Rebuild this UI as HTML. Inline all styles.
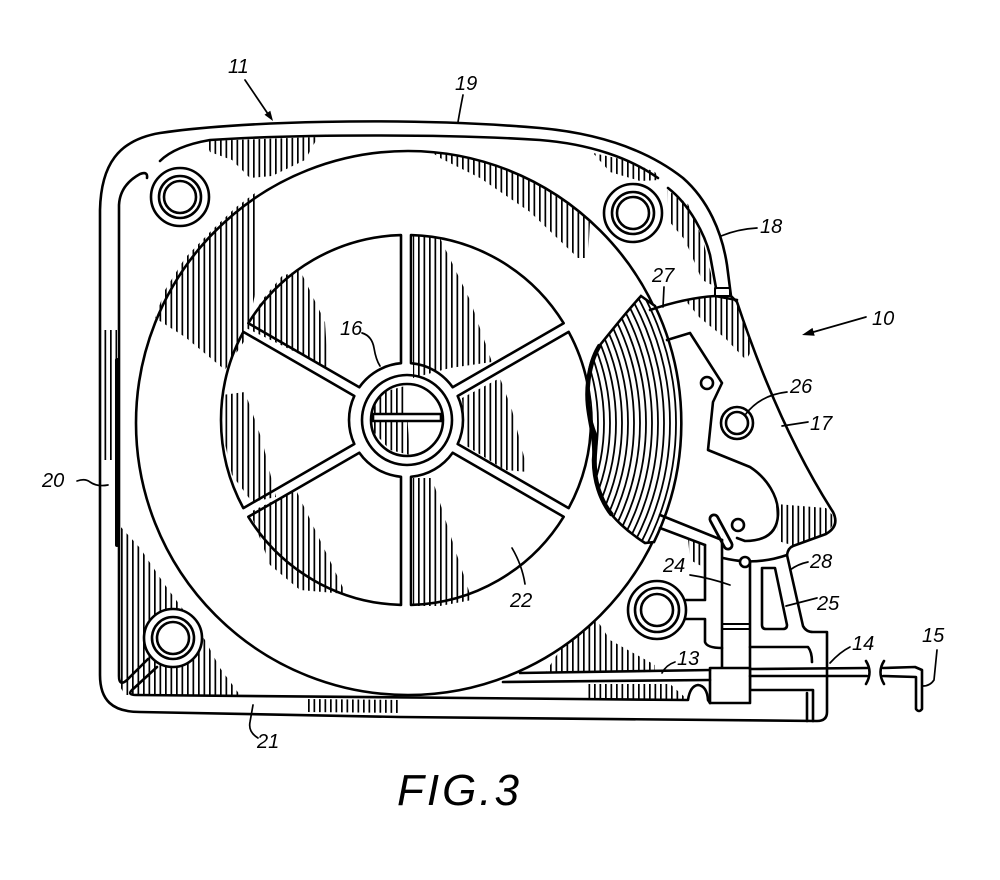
<!DOCTYPE html>
<html><head><meta charset="utf-8"><style>
html,body{margin:0;padding:0;background:#fff;}
svg{display:block;}
text{font-family:"Liberation Sans",sans-serif;font-style:italic;fill:#000;}
</style></head><body>
<svg width="1000" height="880" viewBox="0 0 1000 880" xmlns="http://www.w3.org/2000/svg">
<defs>
<pattern id="h" patternUnits="userSpaceOnUse" width="5.5" height="8"><rect width="1.7" height="8" fill="#000"/></pattern>
<clipPath id="coilc"><path d="M641,296 L655,306 A273,273 0 0 1 654,542 L645,543 C628,532 612,518 605,505 C598,495 596,485 596,470 C594,455 598,445 596,435 C590,420 586,400 588,385 C588,370 592,355 600,345 C612,330 628,310 641,296 Z"/></clipPath>
<clipPath id="screwc"><circle cx="407" cy="420" r="35"/></clipPath>
<path id="sector" d="M5,-56.78 L5,-184.93 A185,185 0 0 1 157.66,-96.79 L46.67,-32.72 A57,57 0 0 0 5,-56.78 Z"/>
</defs>
<rect width="1000" height="880" fill="#fff"/>

<!-- hatching -->
<g fill="url(#h)" stroke="none">
<path d="M205,141 L318,137 L305,160 L272,176 L250,178 L232,160 L210,152 Z"/>
<path d="M430,151 L470,158 L500,167 L527,178 L550,190 L577,210 L590,221 L588,258 L578,258 L530,212 L480,178 L440,158 Z"/>
<path d="M593,153 L625,160 L655,172 L660,180 L640,181 L610,172 Z"/>
<path d="M667,190 L688,204 L703,240 L714,286 L702,280 L685,240 L668,220 Z"/>
<path d="M155,318 L165,290 L185,258 L210,232 L235,208 L255,193 L256,290 L245,340 L225,370 L185,337 Z"/>
<path d="M246,328 L262,300 L282,276 L300,270 L325,322 L328,368 Z"/>
<path d="M413,236 L440,238 L470,300 L492,362 L450,368 L413,378 Z"/>
<path d="M462,398 L500,378 L512,410 L528,472 L505,470 L465,445 Z"/>
<path clip-path="url(#screwc)" d="M372,395 L405,386 L410,455 L390,450 L372,430 Z"/>
<path d="M222,395 L245,392 L262,440 L276,497 L252,502 L232,475 L222,430 Z"/>
<path d="M250,512 L296,490 L320,540 L346,594 L300,590 L270,565 Z"/>
<path d="M413,478 L432,478 L452,540 L472,600 L440,606 L413,606 Z"/>
<path d="M103,330 L117,330 L117,460 L103,460 Z"/>
<path d="M119,525 L140,548 L165,585 L185,612 L205,640 L220,668 L240,695 L125,695 L119,685 Z"/>
<path d="M305,699 L400,700 L400,713 L305,712 Z"/>
<path d="M560,650 L597,620 L610,640 L655,665 L655,672 L545,673 Z"/>
<path d="M587,684 L670,684 L688,700 L587,700 Z"/>
<path d="M688,538 L705,545 L705,568 L690,560 Z"/>
<path d="M685,300 L714,296 L737,301 L752,350 L746,360 L725,338 L700,318 Z"/>
<path d="M776,504 L826,508 L836,519 L828,533 L795,546 L778,541 Z"/>
</g>

<g fill="none" stroke="#000" stroke-width="2.6" stroke-linejoin="round" stroke-linecap="round">
<!-- outer housing -->
<path d="M100,675 L100,210 C101,165 118,140 160,133 C230,122 400,116 540,128 C605,134 650,152 683,178 C708,200 722,232 727,265 L731,296 L737,302 C758,365 790,445 833,512 Q840,526 826,534 L793,546 Q788,548 787,555 L803,626 Q806,632 813,632 L827,632 L827,712 Q827,721 817,721 L400,717 L140,712 C112,712 100,700 100,675 Z"/>
<!-- inner housing lines -->
<path d="M148,659 L127,680 Q119,687 119,676 L119,205 Q120,185 140,174 Q148,171 147,178"/>
<path d="M160,161 Q175,146 210,140 C300,134 450,134 540,140 C590,144 630,158 658,178"/>
<path d="M668,188 C690,205 705,235 710,255 L716,288"/>
<path d="M157,667 L132,690 Q127,695 136,695 L688,700 Q690,686 698,685 Q707,686 708,700 L710,703"/>
<rect x="715" y="288" width="15" height="8" stroke-width="2"/>
<path d="M117,360 L117,545" stroke-width="4"/>
<!-- big flange circle -->
<circle cx="408" cy="423" r="272"/>
<!-- spoke sectors -->
<g transform="translate(406,420)">
<use href="#sector"/>
<use href="#sector" transform="rotate(60)"/>
<use href="#sector" transform="rotate(120)"/>
<use href="#sector" transform="rotate(180)"/>
<use href="#sector" transform="rotate(240)"/>
<use href="#sector" transform="rotate(300)"/>
</g>
<!-- hub -->
<circle cx="407" cy="420" r="45"/>
<circle cx="407" cy="420" r="36"/>
<rect x="373" y="414" width="68" height="7" fill="#fff"/>
</g>

<!-- coil -->
<g>
<path d="M641,296 L655,306 A273,273 0 0 1 654,542 L645,543 C628,532 612,518 605,505 C598,495 596,485 596,470 C594,455 598,445 596,435 C590,420 586,400 588,385 C588,370 592,355 600,345 C612,330 628,310 641,296 Z" fill="#fff"/>
<g clip-path="url(#coilc)" fill="none" stroke="#000" stroke-width="1.8">
<circle cx="408" cy="423" r="184"/><circle cx="408" cy="423" r="190"/><circle cx="408" cy="423" r="196"/><circle cx="408" cy="423" r="202"/><circle cx="408" cy="423" r="208"/><circle cx="408" cy="423" r="214"/><circle cx="408" cy="423" r="220"/><circle cx="408" cy="423" r="226"/><circle cx="408" cy="423" r="232"/><circle cx="408" cy="423" r="238"/><circle cx="408" cy="423" r="244"/><circle cx="408" cy="423" r="250"/><circle cx="408" cy="423" r="256"/><circle cx="408" cy="423" r="262"/><circle cx="408" cy="423" r="268"/>
</g>
<path d="M641,296 L655,306 A273,273 0 0 1 654,542 L645,543 C628,532 612,518 605,505 C598,495 596,485 596,470 C594,455 598,445 596,435 C590,420 586,400 588,385 C588,370 592,355 600,345 C612,330 628,310 641,296 Z" fill="none" stroke="#000" stroke-width="2.6"/>
<path d="M600,345 C590,360 586,385 588,405 C590,425 596,440 594,460 C594,480 600,500 612,515" fill="none" stroke="#000" stroke-width="4.5"/>
</g>

<g fill="none" stroke="#000" stroke-width="2.6" stroke-linejoin="round" stroke-linecap="round">
<!-- lever 17 -->
<path d="M650,310 Q685,298 715,296 L737,300"/>
<path d="M667,340 L690,333 L722,383 L713,402 L708,450 L750,467 C767,478 779,497 778,515 C777,533 765,541 745,541 L737,538"/>
<circle cx="707" cy="383" r="6"/>
<circle cx="737" cy="423" r="16"/>
<circle cx="737" cy="423" r="11"/>
<path d="M714,519 L728,545" stroke-width="11"/>
<path d="M714,519 L728,545" stroke="#fff" stroke-width="5.5"/>
<circle cx="738" cy="525" r="6" fill="#fff"/>
<path d="M660,515 L722,540"/>
<path d="M660,528 L705,545"/>
<path d="M723,558 Q755,566 787,555"/>
<circle cx="745" cy="562" r="5" fill="#fff"/>
<!-- bottom right mechanism -->
<path d="M705,545 L705,600 L686,600"/>
<path d="M686,619 L705,619 L705,642 Q707,648 722,648"/>
<path d="M722,540 L722,668"/>
<path d="M750,562 L750,668"/>
<path d="M722,624 L750,624 M722,629 L750,629" stroke-width="2"/>
<path d="M762,568 L775,568 L787,625 Q787,629 783,629 L766,629 Q762,629 762,625 Z"/>
<path d="M750,647 L808,647 Q812,652 812,662"/>
<path d="M750,668 L750,690 L813,690 L813,721"/>
<path d="M807,693 L807,721"/>
<rect x="710" y="668" width="40" height="35" fill="#fff"/>
<!-- tape 13 -->
<path d="M520,673 L710,670"/>
<path d="M503,682 L710,680"/>
<path d="M750,669 L867,668"/>
<path d="M750,676 L867,676"/>
<path d="M866,661 Q873,672 866,684"/>
<path d="M884,661 Q877,672 884,684"/>
<path d="M883,668 L915,667 L922,670 L922,709 Q919,713 916,709 L916,677 L883,676"/>
<!-- bosses -->
<g fill="#fff">
<circle cx="180" cy="197" r="29"/>
<circle cx="633" cy="213" r="29"/>
<circle cx="173" cy="638" r="29"/>
<circle cx="657" cy="610" r="29"/>
</g>
<circle cx="180" cy="197" r="21"/><circle cx="180" cy="197" r="16"/>
<circle cx="633" cy="213" r="21"/><circle cx="633" cy="213" r="16"/>
<circle cx="173" cy="638" r="21"/><circle cx="173" cy="638" r="16"/>
<circle cx="657" cy="610" r="22"/><circle cx="657" cy="610" r="16"/>
</g>

<!-- leaders -->
<g fill="none" stroke="#000" stroke-width="1.7" stroke-linecap="round">
<path d="M245,80 L268,114"/>
<path d="M463,95 Q460,110 458,122"/>
<path d="M757,228 Q738,229 721,236"/>
<path d="M664,287 L663,307"/>
<path d="M866,317 L810,333"/>
<path d="M787,392 Q760,395 745,415"/>
<path d="M808,422 L782,426"/>
<path d="M362,333 Q372,336 374,348 Q376,360 380,366"/>
<path d="M525,584 Q522,565 512,548"/>
<path d="M77,481 Q85,478 90,482 Q97,487 108,485"/>
<path d="M258,738 Q248,732 250,722 L253,705"/>
<path d="M690,575 Q710,578 730,585"/>
<path d="M808,562 Q798,564 790,570"/>
<path d="M817,598 L786,606"/>
<path d="M675,662 Q666,665 662,673"/>
<path d="M850,647 Q840,652 830,663"/>
<path d="M937,650 L934,680 Q930,686 923,686"/>
</g>
<polygon points="273,121 270.3,110.7 264.5,114.7" fill="#000"/>
<polygon points="802,335 814.7,335.7 812.5,327.9" fill="#000"/>

<!-- labels -->
<g font-size="20">
<text x="228" y="73">11</text>
<text x="455" y="90">19</text>
<text x="760" y="233">18</text>
<text x="652" y="282">27</text>
<text x="872" y="325">10</text>
<text x="790" y="393">26</text>
<text x="810" y="430">17</text>
<text x="340" y="335">16</text>
<text x="42" y="487">20</text>
<text x="510" y="607">22</text>
<text x="663" y="572">24</text>
<text x="810" y="568">28</text>
<text x="817" y="610">25</text>
<text x="677" y="665">13</text>
<text x="852" y="650">14</text>
<text x="922" y="642">15</text>
<text x="257" y="748">21</text>
</g>
<text x="397" y="805" font-size="44" textLength="122" lengthAdjust="spacing">FIG.3</text>
</svg>
</body></html>
